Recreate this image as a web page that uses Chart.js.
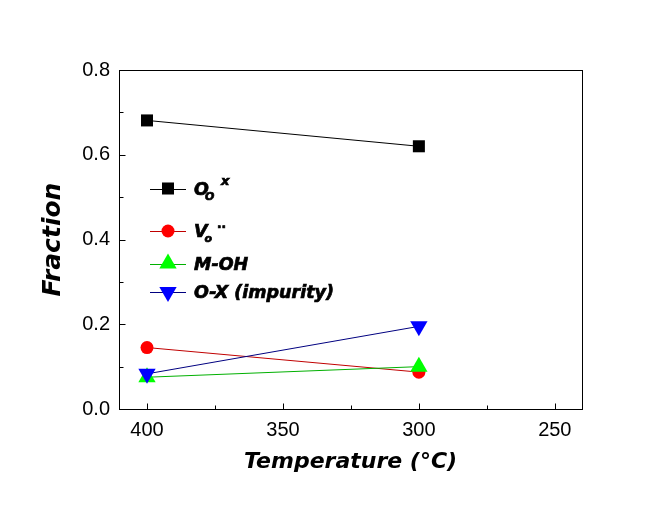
<!DOCTYPE html>
<html><head><meta charset="utf-8">
<script src="https://cdn.jsdelivr.net/npm/chart.js@4"></script>
<style>html,body{margin:0;padding:0;background:#fff}#wrap{width:649px;height:519px;position:relative}</style>
</head><body><div id="wrap"><canvas id="c" width="649" height="519"></canvas></div>
<script>
// ---- data ----
const temperatures = [400, 300];
const ooxValues = [0.681, 0.620];
const voValues = [0.145, 0.087];
const mohValues = [0.075, 0.100];
const oxValues = [0.083, 0.195];
const xTickValues = [400, 350, 300, 250];
const xMinorTicks = [375, 325, 275];
const yTickValues = [0, 0.2, 0.4, 0.6, 0.8];
const yMinorTicks = [0.1, 0.3, 0.5, 0.7];
const xTitle = 'Temperature (°C)';
const yTitle = 'Fraction';

const pts = vals => temperatures.map((t, i) => ({x: t, y: vals[i]}));
const TXT = "'DejaVu Sans', sans-serif";
const TICKF = "'Liberation Sans', Arial, sans-serif";

const series = [
  {key:'oox', data: ooxValues, line:'#000000', fill:'#000000', style:'rect', r:8.5, rot:0, order:4},
  {key:'vo',  data: voValues,  line:'#c00000', fill:'#ff0000', style:'circle', r:6.5, rot:0, order:3},
  {key:'moh', data: mohValues, line:'#00b000', fill:'#00ff00', style:'triangle', r:10, rot:0, order:2},
  {key:'ox',  data: oxValues,  line:'#000080', fill:'#0000ff', style:'triangle', r:10, rot:180, order:1}
];

function marker(ctx, s, x, y) {
  ctx.save();
  ctx.fillStyle = s.fill;
  if (Chart.helpers && Chart.helpers.drawPoint) {
    Chart.helpers.drawPoint(ctx, {pointStyle: s.style, radius: s.r, rotation: s.rot, borderWidth: 0}, x, y);
  }
  ctx.restore();
}

function heavyText(ctx, t, x, y) {
  ctx.fillText(t, x, y);
  ctx.lineWidth = 0.7;
  ctx.strokeStyle = '#000';
  ctx.strokeText(t, x, y);
}

const framePlugin = {
  id: 'frame',
  afterDraw(chart) {
    const ctx = chart.ctx, a = chart.chartArea;
    const xs = chart.scales.x, ys = chart.scales.y;
    const L = Math.round(a.left) + 0.5, R = Math.round(a.right) + 0.5;
    const T = Math.round(a.top) + 0.5, B = Math.round(a.bottom) + 0.5;
    ctx.save();
    ctx.strokeStyle = '#000'; ctx.lineWidth = 1;
    ctx.strokeRect(L, T, R - L, B - T);
    ctx.beginPath();
    xTickValues.forEach(v => { const p = Math.round(xs.getPixelForValue(v)) + 0.5; ctx.moveTo(p, B); ctx.lineTo(p, B - 6); });
    xMinorTicks.forEach(v => { const p = Math.round(xs.getPixelForValue(v)) + 0.5; ctx.moveTo(p, B); ctx.lineTo(p, B - 4); });
    yTickValues.forEach(v => { const p = Math.round(ys.getPixelForValue(v)) + 0.5; ctx.moveTo(L, p); ctx.lineTo(L + 6, p); });
    yMinorTicks.forEach(v => { const p = Math.round(ys.getPixelForValue(v)) + 0.5; ctx.moveTo(L, p); ctx.lineTo(L + 4, p); });
    ctx.stroke();

    // legend
    const rows = [188.5, 231, 263.5, 292];
    series.forEach((s, i) => {
      const y = rows[i];
      ctx.strokeStyle = s.line; ctx.lineWidth = 1;
      ctx.beginPath(); ctx.moveTo(150, Math.round(y) + 0.5); ctx.lineTo(186, Math.round(y) + 0.5); ctx.stroke();
      marker(ctx, s, 168, y);
    });
    ctx.fillStyle = '#000';
    ctx.textBaseline = 'alphabetic';
    ctx.textAlign = 'left';
    const big = "italic bold 17.5px " + TXT;
    // O_O^x
    let b = rows[0] + 6;
    ctx.font = big; heavyText(ctx, 'O', 194, b);
    let w = ctx.measureText('O').width;
    ctx.font = "italic bold 11px " + TXT; heavyText(ctx, 'O', 194 + w - 4, b + 5);
    ctx.font = "italic bold 13px " + TXT; heavyText(ctx, 'x', 221, b - 9.5);
    // V_o ..
    b = rows[1] + 6;
    ctx.font = big; heavyText(ctx, 'V', 194, b);
    w = ctx.measureText('V').width;
    ctx.font = "italic bold 11px " + TXT; heavyText(ctx, 'o', 194 + w - 3, b + 5);
    ctx.font = "bold 12px " + TXT; heavyText(ctx, '..', 217, b - 9.5);
    // M-OH, O-X
    ctx.font = big;
    heavyText(ctx, 'M-OH', 194, rows[2] + 6);
    heavyText(ctx, 'O-X (impurity)', 194, rows[3] + 6);
    ctx.restore();
  }
};

new Chart(document.getElementById('c'), {
  type: 'line',
  data: {
    datasets: series.map(s => ({
      label: s.key,
      data: pts(s.data),
      borderColor: s.line,
      borderWidth: 1,
      backgroundColor: s.fill,
      pointBackgroundColor: s.fill,
      pointBorderWidth: 0,
      pointStyle: s.style,
      pointRadius: s.r,
      pointRotation: s.rot,
      tension: 0,
      fill: false,
      order: s.order
    }))
  },
  options: {
    responsive: false,
    animation: false,
    devicePixelRatio: 1,
    layout: {padding: {left: 0, top: 70, right: 67, bottom: 0}},
    plugins: {legend: {display: false}, tooltip: {enabled: false}},
    scales: {
      x: {
        type: 'linear', reverse: true, min: 240, max: 410.3,
        grid: {display: false, drawTicks: false}, border: {display: false},
        afterBuildTicks: s => { s.ticks = xTickValues.map(v => ({value: v})); },
        afterFit: s => { s.height = 110; },
        ticks: {color: '#000', padding: 9, font: {family: TICKF, size: 20}, callback: v => String(v), maxRotation: 0, autoSkip: false},
        title: {display: true, text: xTitle, color: '#000', font: {family: TXT, size: 22, style: 'italic', weight: 'bold'}, padding: {top: 0, bottom: 44}}
      },
      y: {
        type: 'linear', min: 0, max: 0.8,
        grid: {display: false, drawTicks: false}, border: {display: false},
        afterBuildTicks: s => { s.ticks = yTickValues.map(v => ({value: v})); },
        afterFit: s => { s.width = 119; },
        ticks: {color: '#000', padding: 9, font: {family: TICKF, size: 20}, callback: v => Number(v).toFixed(1), autoSkip: false},
        title: {display: true, text: yTitle, color: '#000', font: {family: TXT, size: 25, style: 'italic', weight: 'bold'}, padding: {top: 38, bottom: 0}}
      }
    }
  },
  plugins: [framePlugin]
});
</script>
</body></html>
